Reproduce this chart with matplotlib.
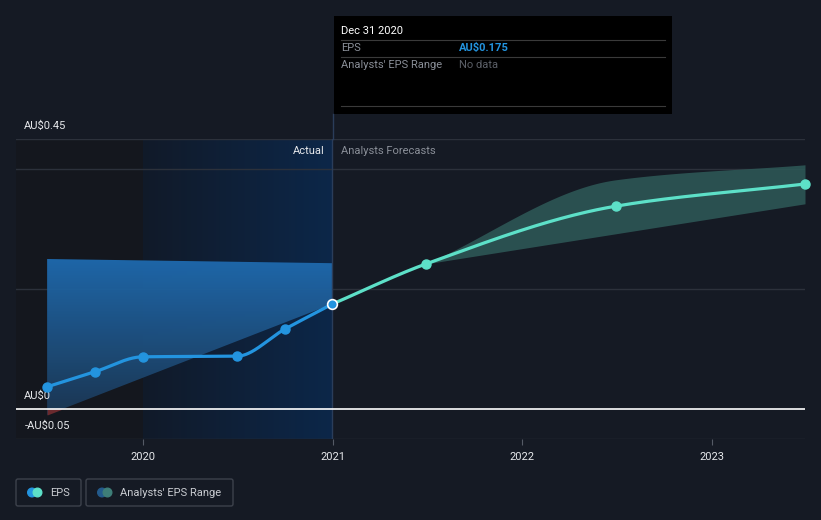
import numpy as np
import pandas as pd
import matplotlib
matplotlib.use("Agg")
import matplotlib.pyplot as plt
import matplotlib.dates as mdates
from matplotlib.patches import FancyBboxPatch, Circle, Polygon
from matplotlib.colors import LinearSegmentedColormap

plt.rcParams['font.family'] = ['Roboto', 'DejaVu Sans']

# EPS actuals (AU$)
actual_dates = ["2019-06-30", "2019-09-30", "2019-12-31", "2020-06-30", "2020-09-30", "2020-12-31"]
actual_eps = [0.037, 0.062, 0.087, 0.088, 0.133, 0.175]

# analyst forecasts
fc_dates = ["2020-12-31", "2021-06-30", "2022-06-30", "2023-06-30"]
fc_eps = [0.175, 0.242, 0.338, 0.375]
fc_low = [0.175, 0.242, 0.292, 0.342]
fc_high = [0.175, 0.242, 0.382, 0.407]

# shaded blue area behind the actuals
area_dates = ["2019-06-30", "2020-12-31"]
area_top = [0.250, 0.243]
area_bottom = [-0.010, 0.175]

yticks = [0.45, 0.0, -0.05]
ytick_labels = ["AU\\$0.45", "AU\\$0", "-AU\\$0.05"]
xtick_years = ["2020", "2021", "2022", "2023"]

BG = "#151a24"
BLUE = "#2394df"
TEAL = "#5de0c8"


def smooth(x, y, n=60):
    # monotone cubic curve through the points, for drawing only
    x = np.asarray(x, float); y = np.asarray(y, float)
    h = np.diff(x); d = np.diff(y) / h
    m = np.zeros_like(y)
    m[0], m[-1] = d[0], d[-1]
    for i in range(1, len(y) - 1):
        if d[i - 1] * d[i] > 0:
            w1 = 2 * h[i] + h[i - 1]; w2 = h[i] + 2 * h[i - 1]
            m[i] = (w1 + w2) / (w1 / d[i - 1] + w2 / d[i])
    xs, ys = [], []
    for i in range(len(h)):
        t = np.linspace(0, 1, n)
        h00 = 2*t**3 - 3*t**2 + 1; h10 = t**3 - 2*t**2 + t
        h01 = -2*t**3 + 3*t**2; h11 = t**3 - t**2
        xs.append(x[i] + t*h[i])
        ys.append(h00*y[i] + h10*h[i]*m[i] + h01*y[i+1] + h11*h[i]*m[i+1])
    return np.concatenate(xs), np.concatenate(ys)


ad = mdates.date2num(pd.to_datetime(actual_dates))
fd = mdates.date2num(pd.to_datetime(fc_dates))
ard = mdates.date2num(pd.to_datetime(area_dates))

fig = plt.figure(figsize=(8.21, 5.2), dpi=100, facecolor=BG)
W, H = 821, 520
ax = fig.add_axes([16 / W, (H - 439) / H, (805 - 16) / W, (439 - 139) / H])
ax.set_facecolor(BG)
x0 = mdates.date2num(pd.Timestamp("2019-05-01"))
x1 = mdates.date2num(pd.Timestamp("2023-06-30"))
ax.set_xlim(x0, x1)
ax.set_ylim(-0.05, 0.45)
for s in ax.spines.values():
    s.set_visible(False)

x2020 = mdates.date2num(pd.Timestamp("2020-01-01"))
x2021 = mdates.date2num(pd.Timestamp("2021-01-01"))

# darker past region and the blue "actual" band
ax.axvspan(x0, x2020, color="#14171e", zorder=0, lw=0)
grad = np.linspace(0, 1, 256).reshape(1, -1)
cm_act = LinearSegmentedColormap.from_list("act", ["#111a29", "#0c2749"])
ax.imshow(grad, cmap=cm_act, extent=[x2020, x2021, -0.05, 0.45], aspect="auto", zorder=0.5)

# gridlines
for g in [0.45, 0.4, 0.2, -0.05]:
    ax.axhline(g, color="#2c313b", lw=1, zorder=1)
ax.axhline(0, color="white", lw=1.2, zorder=3)

# gradient area behind actuals
cm_area = LinearSegmentedColormap.from_list("area", ["#1c3855", "#1f6bb0"])
vgrad = np.linspace(0, 1, 256).reshape(-1, 1)
im = ax.imshow(vgrad, cmap=cm_area, origin="lower",
               extent=[ard[0], ard[1], min(area_bottom), max(area_top)],
               aspect="auto", zorder=2, alpha=0.95)
poly = Polygon([(ard[0], area_top[0]), (ard[1], area_top[1]),
                (ard[1], area_bottom[1]), (ard[0], area_bottom[0])],
               closed=True, transform=ax.transData, facecolor="none", edgecolor="none")
ax.add_patch(poly)
im.set_clip_path(poly)
xa = np.linspace(ard[0], ard[1], 200)
ab = np.interp(xa, ard, area_bottom)
ax.fill_between(xa, ab, 0, where=ab < 0, color="#6b2a2e", lw=0, zorder=2.5)

# analyst range band
bx, bh = smooth(fd[1:], fc_high[1:])
_, bl = smooth(fd[1:], fc_low[1:])
ax.fill_between(bx, bl, bh, color="#2e5a58", alpha=0.85, lw=0, zorder=2)

# vertical separator at the tooltip date
ax.axvline(fd[0], color="#2a3d5a", lw=1, zorder=2.6)

# lines
sx, sy = smooth(ad, actual_eps)
ax.plot(sx, sy, color=BLUE, lw=2.3, zorder=4, solid_capstyle="round")
fx, fy = smooth(fd, fc_eps)
ax.plot(fx, fy, color=TEAL, lw=2.3, zorder=4, solid_capstyle="round")
ax.plot(ad[:-1], actual_eps[:-1], "o", color=BLUE, ms=6.5, zorder=5)
ax.plot(fd[1:], fc_eps[1:], "o", color=TEAL, ms=6.5, zorder=5, clip_on=False)
ax.plot(ad[-1:], actual_eps[-1:], "o", color=BLUE, mec="white", mew=1.2, ms=7, zorder=6)

# ticks
ax.set_yticks([])
ax.set_xticks(mdates.date2num(pd.to_datetime([y + "-01-01" for y in xtick_years])))
ax.set_xticklabels(xtick_years, color="#e6e8eb", fontsize=8)
ax.tick_params(axis="x", length=4, color="#555b66", pad=5)
for v, lab in zip(yticks, ytick_labels):
    ax.annotate(lab, (0, v), xycoords=("axes fraction", "data"), xytext=(6, 6),
                textcoords="offset points", color="#e6e8eb", fontsize=8, va="bottom")

ax.annotate("Actual", (x2021, 0.45), xytext=(-6, -5), textcoords="offset points",
            color="#e6e8eb", fontsize=8, ha="right", va="top")
ax.annotate("Analysts Forecasts", (x2021, 0.45), xytext=(6, -5), textcoords="offset points",
            color="#8a8f98", fontsize=8, ha="left", va="top")

# overlay in pixel coordinates for tooltip and legend
ov = fig.add_axes([0, 0, 1, 1], zorder=10)
ov.set_xlim(0, W); ov.set_ylim(H, 0); ov.axis("off")
ov.plot([333, 333], [114, 139], color="#2a3d5a", lw=1)
ov.add_patch(FancyBboxPatch((334, 16), 338, 98, boxstyle="square,pad=0", fc="black", ec="none"))
ov.text(341, 31, "Dec 31 2020", color="white", fontsize=8, va="center")
for yy in [40, 57, 106]:
    ov.plot([341, 665], [yy, yy], color="#3a3a3a", lw=0.8)
ov.text(341, 48, "EPS", color="#8a8f98", fontsize=8, va="center")
ov.text(459, 48, "AU\\$0.175", color=BLUE, fontsize=8, va="center", fontweight="bold")
ov.text(341, 65, "Analysts' EPS Range", color="#8a8f98", fontsize=8, va="center")
ov.text(459, 65, "No data", color="#5c6068", fontsize=8, va="center")

ov.add_patch(FancyBboxPatch((16, 479), 65, 27, boxstyle="round,pad=0,rounding_size=2",
                            fc="none", ec="#3d424c", lw=1))
ov.add_patch(FancyBboxPatch((86, 479), 147, 27, boxstyle="round,pad=0,rounding_size=2",
                            fc="none", ec="#3d424c", lw=1))
ov.add_patch(Circle((32, 492.5), 4.3, color=BLUE))
ov.add_patch(Circle((37.5, 492.5), 4.3, color=TEAL))
ov.text(50, 493, "EPS", color="#c9ccd1", fontsize=8, va="center")
ov.add_patch(Circle((102, 492.5), 4.3, color="#235a8c"))
ov.add_patch(Circle((107.5, 492.5), 4.3, color="#3e7e78"))
ov.text(120, 493, "Analysts' EPS Range", color="#c9ccd1", fontsize=8, va="center")

fig.savefig("out.png", dpi=100, facecolor=BG)
